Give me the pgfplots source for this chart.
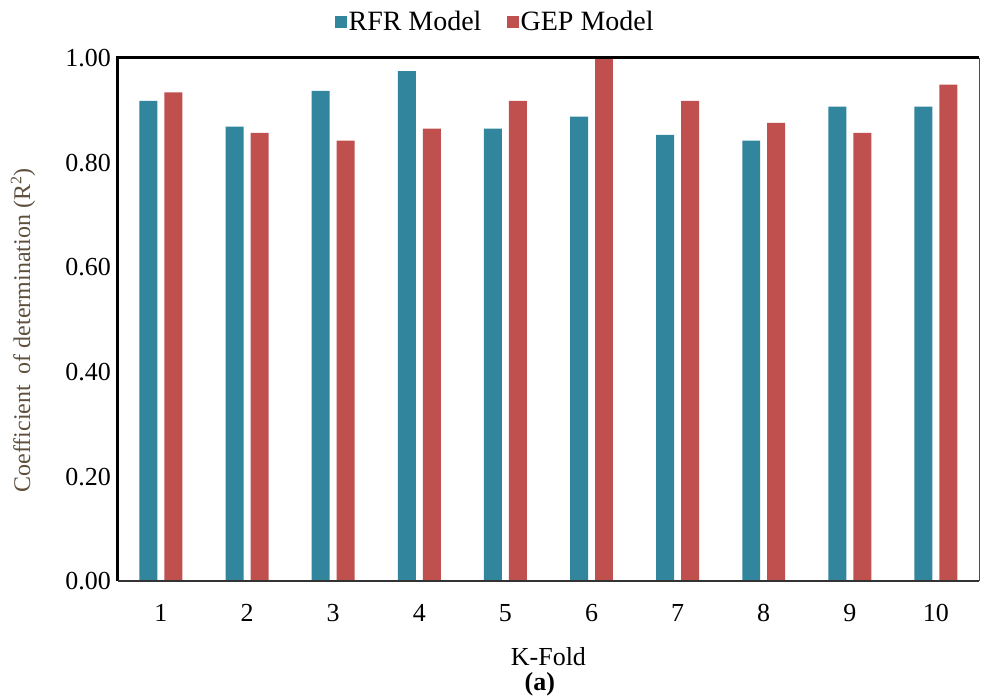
\documentclass[border=0pt]{standalone}
\usepackage{fontspec}
\setmainfont{Liberation Serif}
\usepackage{pgfplots}
\pgfplotsset{compat=1.18}
\definecolor{rfr}{HTML}{31859C}
\definecolor{gep}{HTML}{C0504D}
\definecolor{ylab}{RGB}{95,80,62}
\begin{document}
\begin{tikzpicture}
\begin{axis}[name=ax,
 scale only axis, width=431pt, height=262pt,
 ybar=3.5pt, bar width=9pt,
 xmin=0.5, xmax=10.5, ymin=0, ymax=1,
 xtick={1,...,10}, ytick={0,0.2,0.4,0.6,0.8,1.0},
 major tick length=0pt,
 axis line style={draw=none},
 tick label style={font=\fontsize{13}{15}\selectfont, black},
 /pgf/number format/assume math mode=true,
 yticklabel style={/pgf/number format/.cd, fixed, fixed zerofill, precision=2},
 xticklabel shift=8pt,
 clip=false,
 legend style={draw=none, fill=none, at={(0.4385,1.0687)}, anchor=center,
   font=\fontsize{14}{16}\selectfont, legend columns=2,
   /tikz/every even column/.append style={column sep=12pt},
   nodes={inner sep=1pt}},
]
\addplot[fill=rfr, draw=none, legend image code/.code={\fill[rfr] (0pt,-2.8pt) rectangle (5.6pt,2.8pt);}]
 coordinates {(1,0.918) (2,0.869) (3,0.937) (4,0.975) (5,0.865) (6,0.888) (7,0.853) (8,0.842) (9,0.907) (10,0.907)};
\addplot[fill=gep, draw=none, legend image code/.code={\fill[gep] (0pt,-2.8pt) rectangle (5.6pt,2.8pt);}]
 coordinates {(1,0.934) (2,0.857) (3,0.842) (4,0.865) (5,0.918) (6,1.0) (7,0.918) (8,0.876) (9,0.857) (10,0.949)};
\legend{RFR Model, GEP Model}
\draw[black, line width=1.5pt] (rel axis cs:0,0) -- (rel axis cs:0,1) -- (rel axis cs:1,1);
\draw[black!80, line width=1pt] (rel axis cs:0,0) -- (rel axis cs:1,0);
\draw[black!70, line width=0.5pt] (rel axis cs:1,0) -- (rel axis cs:1,1);
\node[font=\fontsize{13}{15}\selectfont] at ([yshift=-37.5pt]rel axis cs:0.5,0) {K-Fold};
\node[font=\bfseries\fontsize{13}{15}\selectfont] at ([yshift=-51.5pt]rel axis cs:0.49,0) {(a)};
\node[rotate=90, text=ylab, font=\fontsize{12}{14}\selectfont] at ([xshift=-47.5pt]rel axis cs:0,0.48) {Coefficient\hspace{0.45em}of determination (R\textsuperscript{2})};
\end{axis}
\pgfresetboundingbox
\path[use as bounding box] ([xshift=-59pt,yshift=-57.5pt]ax.south west) rectangle ([xshift=1.5pt,yshift=29pt]ax.north east);
\end{tikzpicture}
\end{document}
